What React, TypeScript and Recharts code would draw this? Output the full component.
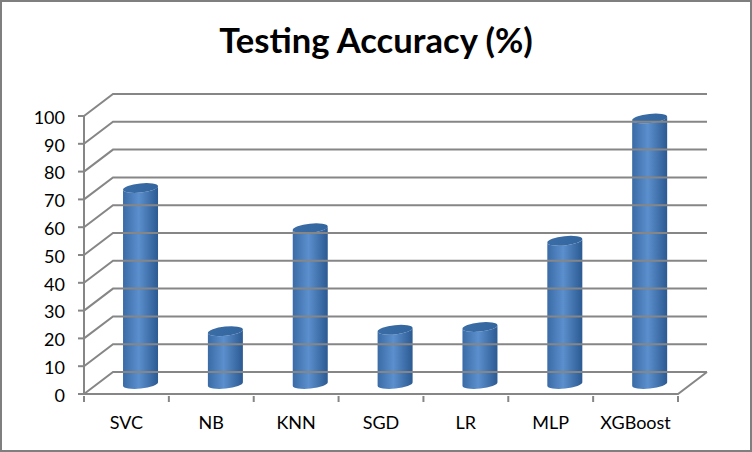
import React from 'react';
import { BarChart, Bar, XAxis, YAxis, ReferenceLine } from 'recharts';

const categories = ['SVC', 'NB', 'KNN', 'SGD', 'LR', 'MLP', 'XGBoost'];
const accuracy = [70.5, 19, 56, 19.5, 20.5, 51.5, 95.5];
const yTicks = [0, 10, 20, 30, 40, 50, 60, 70, 80, 90, 100];

const data = categories.map((name, i) => ({ name, accuracy: accuracy[i] }));

const AXIS_COLOR = '#868686';
const FONT = 'Lato, "Open Sans", sans-serif';

// fake 3D depth of the walls
const DEPTH_X = 29;
const DEPTH_Y = -22;
// bars stand in the middle of the floor
const BAR_DX = 14;
const BAR_DY = -10;

// gridline running along the left wall and then across the back wall
function WallLine(props: any) {
  const { x1, x2, y1 } = props;
  const isFloor = props.isFloor;
  const bx = x1 + DEPTH_X;
  const by = y1 + DEPTH_Y;
  return (
    <g fill="none" stroke={AXIS_COLOR} strokeWidth={2}>
      <polyline points={`${x1},${y1} ${bx},${by} ${x2 + DEPTH_X},${by}`} />
      {isFloor && <polyline points={`${x1},${y1} ${x2},${y1} ${x2 + DEPTH_X},${by}`} />}
    </g>
  );
}

function Cylinder(props: any) {
  const { x, y, width, height } = props;
  const rx = width / 2;
  const ry = 4.6;
  const tilt = 1.8;
  const left = x + BAR_DX;
  const right = left + width;
  const top = y + BAR_DY;
  const base = y + height + BAR_DY;
  const body =
    `M${left},${top + tilt} L${left},${base + tilt} ` +
    `A${rx},${ry} -6 0 0 ${right},${base - tilt} ` +
    `L${right},${top - tilt} ` +
    `A${rx},${ry} -6 0 1 ${left},${top + tilt} Z`;
  const cap =
    `M${left},${top + tilt} A${rx},${ry} -6 0 1 ${right},${top - tilt} ` +
    `A${rx},${ry} -6 0 1 ${left},${top + tilt} Z`;
  return (
    <g>
      <path d={body} fill="url(#cylinderSide)" />
      <path d={cap} fill="url(#cylinderCap)" />
    </g>
  );
}

function CategoryTick(props: any) {
  const { x, y, payload, index } = props;
  const half = 594 / categories.length / 2;
  return (
    <g>
      <line x1={x - half} y1={y - 12} x2={x - half} y2={y - 6} stroke={AXIS_COLOR} strokeWidth={2} />
      {index === categories.length - 1 && (
        <line x1={x + half} y1={y - 12} x2={x + half} y2={y - 6} stroke={AXIS_COLOR} strokeWidth={2} />
      )}
      <text x={x} y={y + 21} textAnchor="middle" fontSize={18} fontFamily={FONT} fill="#000">
        {payload.value}
      </text>
    </g>
  );
}

export default function App() {
  return (
    <div style={{ position: 'absolute', left: 0, top: 0, width: 752, height: 452, background: '#fff', overflow: 'hidden' }}>
      <div
        style={{
          position: 'absolute',
          left: 0,
          right: 0,
          top: 16,
          textAlign: 'center',
          fontFamily: FONT,
          fontWeight: 700,
          fontSize: 34.6,
          lineHeight: '48px',
          color: '#000'
        }}
      >
        Testing Accuracy (%)
      </div>
      <BarChart
        width={752}
        height={452}
        data={data}
        margin={{ top: 116, right: 74, bottom: 0, left: 0 }}
        barCategoryGap="29.5%"
        style={{ position: 'absolute', left: 0, top: 0 }}
      >
        <defs>
          <linearGradient id="cylinderSide" x1="0" y1="0" x2="1" y2="0">
            <stop offset="0%" stopColor="#3a6ba6" />
            <stop offset="45%" stopColor="#5b8fcd" />
            <stop offset="100%" stopColor="#2c5a92" />
          </linearGradient>
          <linearGradient id="cylinderCap" x1="0" y1="0" x2="1" y2="0">
            <stop offset="0%" stopColor="#3a6ca6" />
            <stop offset="100%" stopColor="#33659e" />
          </linearGradient>
        </defs>
        {yTicks.map((v) => (
          <ReferenceLine
            key={v}
            y={v}
            ifOverflow="visible"
            stroke={AXIS_COLOR}
            shape={(p: any) => <WallLine {...p} isFloor={v === 0} />}
          />
        ))}
        <XAxis
          dataKey="name"
          height={58}
          interval={0}
          axisLine={{ stroke: AXIS_COLOR, strokeWidth: 2 }}
          tickLine={false}
          tickMargin={8}
          tick={<CategoryTick />}
        />
        <YAxis
          width={84}
          domain={[0, 100]}
          ticks={yTicks}
          interval={0}
          axisLine={{ stroke: AXIS_COLOR, strokeWidth: 2 }}
          tickLine={{ stroke: AXIS_COLOR, strokeWidth: 2 }}
          tickSize={6}
          tickMargin={13}
          tick={{ fill: '#000', fontSize: 18, fontFamily: FONT, dy: 1.5 }}
        />
        <Bar dataKey="accuracy" isAnimationActive={false} shape={<Cylinder />} />
      </BarChart>
      <div
        style={{
          position: 'absolute',
          inset: 0,
          border: '2px solid #7f7f7f',
          boxSizing: 'border-box',
          pointerEvents: 'none'
        }}
      />
    </div>
  );
}
